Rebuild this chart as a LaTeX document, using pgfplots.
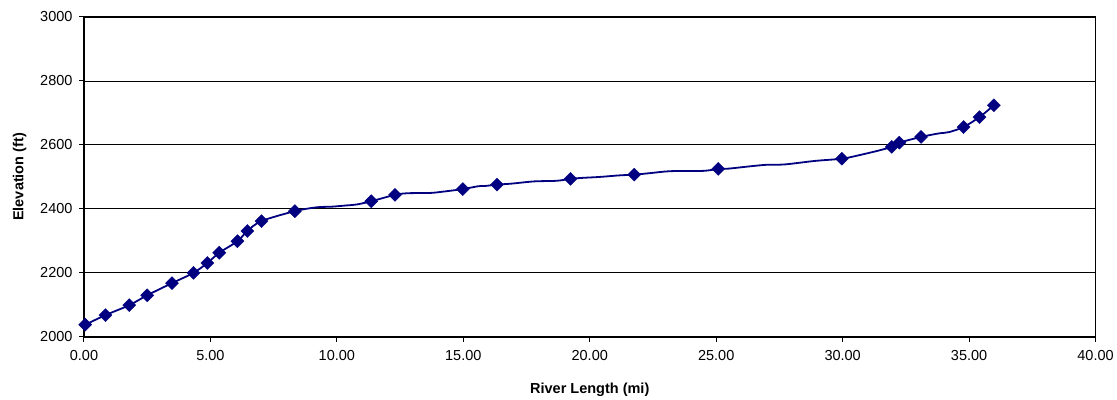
\documentclass[border=0pt]{standalone}
\usepackage{fontspec}
\setmainfont{Liberation Sans}
\usepackage{pgfplots}
\pgfplotsset{compat=1.18}
\definecolor{navyline}{RGB}{0,0,128}
\begin{document}
\begin{tikzpicture}
\begin{axis}[
  name=ax,
  width=1012pt, height=320pt, scale only axis,
  xmin=0, xmax=40, ymin=2000, ymax=3000,
  xtick={0,5,...,40}, ytick={2000,2200,...,3000},
  /pgf/number format/assume math mode=true,
  xticklabel style={/pgf/number format/.cd, fixed, fixed zerofill, precision=2, /tikz/.cd, yshift=-5pt},
  yticklabel style={/pgf/number format/.cd, 1000 sep={}, /tikz/.cd, xshift=-3pt},
  ticklabel style={font=\fontsize{14.5}{16}\selectfont},
  label style={font=\bfseries\fontsize{14.5}{16}\selectfont},
  xlabel={River Length (mi)}, ylabel={Elevation (ft)},
  xlabel style={yshift=-15pt},
  ylabel style={yshift=7pt},
  ymajorgrids, grid style={black, line width=0.9pt},
  axis line style={black, line width=1.8pt},
  tick style={black, line width=1pt},
  tick align=outside, major tick length=5pt,
  xtick pos=bottom, ytick pos=left,
  clip=false,
]
\addplot[navyline, line width=1.8pt, smooth, no markers] coordinates {
(0.05,2038) (0.85,2068) (1.79,2099) (2.5,2130) (3.48,2168) (4.33,2200)
(4.88,2231) (5.35,2263) (6.07,2299) (6.46,2331) (7.02,2362) (8.34,2393)
(9.2,2405) (9.8,2407) (10.4,2411) (10.8,2414)
(11.36,2424) (12.3,2444)
(12.8,2449) (13.7,2450) (14.2,2454)
(14.98,2462) (15.6,2471) (15.9,2472) (16.33,2476)
(16.9,2479) (17.8,2486) (18.7,2488)
(19.24,2494) (19.7,2497) (20.4,2500) (21.2,2505)
(21.76,2507) (22.4,2512) (23.2,2518) (24.5,2519)
(25.08,2525) (25.5,2526) (26.2,2532) (27.0,2538) (27.7,2539) (28.9,2550)
(29.97,2557) (30.6,2567) (31.4,2582)
(31.94,2594) (32.24,2607) (33.1,2625) (33.8,2636) (34.2,2640)
(34.78,2656) (35.41,2687) (35.98,2724)
};
\addplot[only marks, mark=square*, mark size=4.6pt, mark options={rotate=45, fill=navyline, draw=navyline, line width=0.4pt}] coordinates {
(0.05,2038) (0.85,2068) (1.79,2099) (2.5,2130) (3.48,2168) (4.33,2200)
(4.88,2231) (5.35,2263) (6.07,2299) (6.46,2331) (7.02,2362) (8.34,2393)
(11.36,2424) (12.3,2444) (14.98,2462) (16.33,2476) (19.24,2494) (21.76,2507)
(25.08,2525) (29.97,2557) (31.94,2594) (32.24,2607) (33.1,2625) (34.78,2656)
(35.41,2687) (35.98,2724)
};
\end{axis}
\path (ax.south west) ++(-84pt,-62pt) coordinate (bbA);
\path (ax.north east) ++(21pt,17pt) coordinate (bbB);
\path (bbA) rectangle (bbB);
\end{tikzpicture}
\end{document}
